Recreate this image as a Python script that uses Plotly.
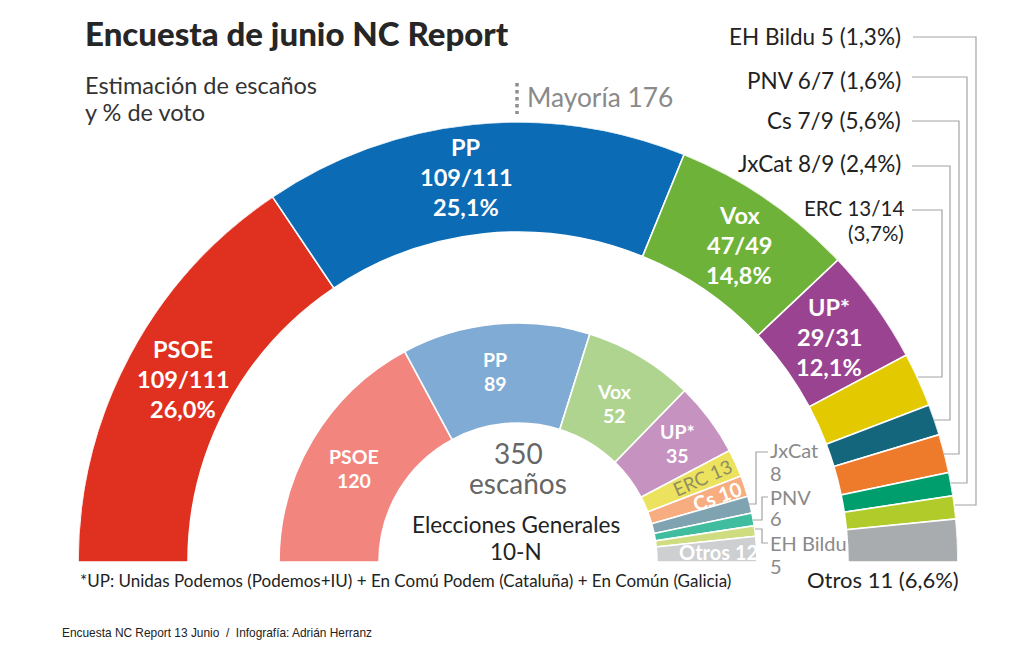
import plotly.graph_objects as go

PAGE_W, PAGE_H = 1034, 654
PAD = 8  # the browser's body margin around the figure
W, H = PAGE_W - 2 * PAD, PAGE_H - 2 * PAD
CX, CY = 518, 562  # centre of the hemicycle in page pixels
SANS = "Lato"
DARK = "#222222"
GREY = "#8a8a8a"
LEADER = "#a3a3a3"

# seats as drawn in each ring (the outer ring uses the width of the fork)
outer_parties = ["PSOE", "PP", "Vox", "UP", "ERC", "JxCat", "Cs", "PNV", "EH Bildu", "Otros"]
outer_seats = [110, 110, 48, 30, 14, 8, 10, 6, 6, 11]
outer_colors = ["#df3020", "#0b6bb5", "#6fb23a", "#9a4390", "#e2c900",
                "#14667c", "#ee7a2b", "#009e6c", "#b1cb2a", "#a9acae"]

inner_parties = ["PSOE", "PP", "Vox", "UP", "ERC", "Cs", "JxCat", "PNV", "EH Bildu", "Otros"]
inner_seats = [120, 89, 52, 35, 13, 10, 8, 6, 5, 12]
inner_colors = ["#f3857f", "#7fabd4", "#afd48f", "#c692bf", "#ede25e",
                "#f7ad80", "#7fa3b0", "#3fbd9e", "#cfdd80", "#cdcfd1"]

outer_labels = [["PSOE", "109/111", "26,0%"], ["PP", "109/111", "25,1%"],
                ["Vox", "47/49", "14,8%"], ["UP*", "29/31", "12,1%"]]
outer_label_pos = [(183, 349), (466, 147), (739, 215), (829, 307)]
inner_labels = [["PSOE", "120"], ["PP", "89"], ["Vox", "52"], ["UP*", "35"]]
inner_label_pos = [(354, 456), (495, 359), (614, 391), (677, 431)]

side_labels = ["EH Bildu 5 (1,3%)", "PNV 6/7 (1,6%)", "Cs 7/9 (5,6%)", "JxCat 8/9 (2,4%)"]
side_label_y = [37, 80, 121, 164]


def ring(seats, colors, names, r_in, r_out):
    total = sum(seats)
    theta, width, start = [], [], 0
    for s in seats:
        theta.append(180 * (start + s / 2) / total)
        width.append(180 * s / total)
        start += s
    return go.Barpolar(
        theta=theta, width=width,
        r=[r_out - r_in] * len(seats), base=[r_in] * len(seats),
        marker=dict(color=colors, line=dict(color="white", width=1.6)),
        text=names, hoverinfo="text+theta", showlegend=False,
    )


def px(x):
    return (x - PAD) / W


def py(y):
    return 1 - (y - PAD) / H


def txt(x, y, s, size=23, color=DARK, font=SANS, anchor="center", angle=0):
    return dict(x=px(x), y=py(y), xref="paper", yref="paper", text=s, showarrow=False,
                xanchor=anchor, yanchor="middle", align=anchor, textangle=angle,
                font=dict(family=font, size=size, color=color))


def stack(x, y, rows, pitch, **kw):
    # one annotation per line, the source sets its lines tighter than plotly does
    return [txt(x, y + i * pitch, row, **kw) for i, row in enumerate(rows)]


def path(points, color=LEADER, width=1.2, dash="solid"):
    d = "M " + " L ".join(f"{px(x):.5f},{py(y):.5f}" for x, y in points)
    return dict(type="path", path=d, xref="paper", yref="paper",
                line=dict(color=color, width=width, dash=dash))


fig = go.Figure()
fig.add_trace(ring(outer_seats, outer_colors, outer_parties, 330, 440))
fig.add_trace(ring(inner_seats, inner_colors, inner_parties, 139, 239))

title = txt(83, 33, "Encuesta de junio NC Report", 33, "#262626", SANS, "left")
title["font"]["weight"] = 900

notes = [
    title,
    txt(525, 97, "Mayoría 176", 26.3, GREY, SANS, "left"),
    txt(78, 580, "*UP: Unidas Podemos (Podemos+IU) + En Comú Podem (Cataluña) + En Común (Galicia)",
        17, DARK, SANS, "left"),
    txt(60, 633, "Encuesta NC Report 13 Junio  /  Infografía: Adrián Herranz", 11.9, "#222222",
        "Liberation Sans", "left"),
    txt(883, 579, "Otros 11 (6,6%)", 22),
    txt(702, 477, "ERC 13", 19, "#8e8e62", SANS, "center", -24),
    txt(717, 496, "<b>Cs 10</b>", 20, "white", SANS, "center", -20),
    txt(718, 552, "<b>Otros 12</b>", 20, "white", SANS),
]
notes += stack(83, 85, ["Estimación de escaños", "y % de voto"], 27, size=23.5, color="#333333", anchor="left")
notes += stack(518, 453, ["350", "escaños"], 30, size=28, color="#666666")
notes += stack(516, 524, ["Elecciones Generales", "10-N"], 27, size=22.5)
notes += stack(906, 208, ["ERC 13/14", "(3,7%)"], 25, size=20.5, anchor="right")
notes += stack(768, 450, ["JxCat", "8"], 23, size=20, color=GREY, anchor="left")
notes += stack(768, 497, ["PNV", "6"], 21, size=20, color=GREY, anchor="left")
notes += stack(768, 543, ["EH Bildu", "5"], 23, size=20, color=GREY, anchor="left")
for rows, pos in zip(outer_labels, outer_label_pos):
    notes += stack(pos[0], pos[1], [f"<b>{r}</b>" for r in rows], 30, size=23.5, color="white")
for rows, pos in zip(inner_labels, inner_label_pos):
    notes += stack(pos[0], pos[1], [f"<b>{r}</b>" for r in rows], 24, size=19.5, color="white")
for s, y in zip(side_labels, side_label_y):
    notes.append(txt(903, y, s, 22.5, DARK, SANS, "right"))

leaders = [
    path([(913, 37), (976, 37), (976, 505), (955, 505)]),
    path([(912, 77), (967, 77), (967, 483), (951, 483)]),
    path([(912, 121), (959, 121), (959, 454), (944, 454)]),
    path([(912, 166), (950, 166), (950, 420), (934, 420)]),
    path([(912, 210), (942, 210), (942, 377), (918, 377)]),
    path([(749, 504), (756, 504), (756, 452), (768, 452)]),
    path([(753, 520), (762, 520), (762, 497), (768, 497)]),
    path([(755, 529), (762, 529), (762, 543), (768, 543)]),
    path([(517, 83), (517, 114)], "#8f8f8f", 3.5, "dot"),
]

fig.update_layout(
    width=W, height=H, autosize=False,
    margin=dict(l=0, r=0, t=0, b=0),
    paper_bgcolor="white",
    annotations=notes,
    shapes=leaders,
    polar=dict(
        domain=dict(x=[px(CX - 440), px(CX + 440)], y=[py(CY), py(CY - 440)]),
        sector=[0, 180],
        bgcolor="rgba(0,0,0,0)",
        barmode="overlay",
        radialaxis=dict(visible=False, range=[0, 440]),
        angularaxis=dict(visible=False, rotation=180, direction="clockwise"),
    ),
)

fig.write_html("out.html")
